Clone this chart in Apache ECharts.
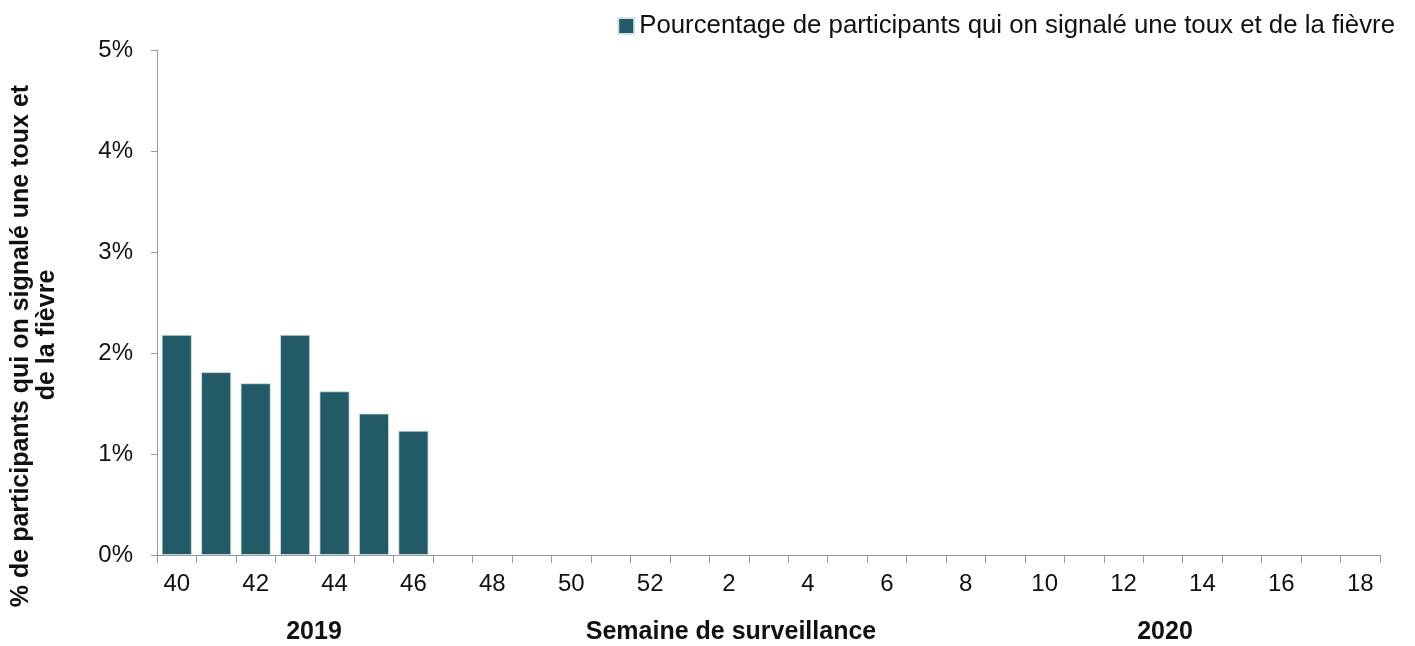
<!DOCTYPE html>
<html>
<head>
<meta charset="utf-8">
<script src="https://cdn.jsdelivr.net/npm/echarts@6/dist/echarts.min.js"></script>
<style>html,body{margin:0;padding:0;background:#fff}#c{width:1415px;height:646px}</style>
</head>
<body>
<div id="c"></div>
<script>
var weeks = ['40','41','42','43','44','45','46','47','48','49','50','51','52','1','2','3','4','5','6','7','8','9','10','11','12','13','14','15','16','17','18'];
var pctCoughFever = [2.18, 1.81, 1.70, 2.18, 1.62, 1.40, 1.23, null, null, null, null, null, null, null, null, null, null, null, null, null, null, null, null, null, null, null, null, null, null, null, null];
var yTicks = [0, 1, 2, 3, 4, 5];
var seriesName = 'Pourcentage de participants qui on signalé une toux et de la fièvre';
var yTitle = ['% de participants qui on signalé une toux et', 'de la fièvre'];
var xTitle = 'Semaine de surveillance';
var yearLabels = ['2019', '2020'];

var chart = echarts.init(document.getElementById('c'), null, {renderer: 'canvas'});
var FONT = '"Liberation Sans", Arial, sans-serif';
chart.setOption({
  animation: false,
  backgroundColor: '#fff',
  textStyle: {fontFamily: FONT},
  grid: {left: 157, right: 35, top: 50, bottom: 91, containLabel: false},
  legend: {
    top: 8, right: 15,
    itemWidth: 16, itemHeight: 16, itemGap: 5,
    icon: 'rect',
    textStyle: {fontSize: 25.8, color: '#111', fontFamily: FONT, padding: [0,0,0,0]},
    data: [seriesName]
  },
  xAxis: {
    type: 'category',
    data: weeks,
    boundaryGap: true,
    axisLine: {lineStyle: {color: '#999', width: 1}},
    axisTick: {show: true, interval: 0, length: 8, lineStyle: {color: '#999'}},
    axisLabel: {interval: 1, fontSize: 24, color: '#111', margin: 17, fontFamily: FONT}
  },
  yAxis: {
    type: 'value',
    min: yTicks[0], max: yTicks[yTicks.length-1], interval: 1,
    splitLine: {show: false},
    axisLine: {show: true, lineStyle: {color: '#999', width: 1}},
    axisTick: {show: true, length: 6, lineStyle: {color: '#999'}},
    axisLabel: {fontSize: 24, color: '#111', margin: 24, fontFamily: FONT, formatter: function(v){return v + '%';}}
  },
  series: [{
    name: seriesName,
    type: 'bar',
    data: pctCoughFever,
    barCategoryGap: '24%',
    itemStyle: {color: '#235A68', borderColor: '#d6e2e5', borderWidth: 0.8}
  }],
  graphic: [
    {type: 'text', x: 21, y: 346, rotation: Math.PI/2,
     style: {text: yTitle[0], font: 'bold 25px ' + FONT, fill: '#111', align: 'center', verticalAlign: 'middle'}},
    {type: 'text', x: 47, y: 335, rotation: Math.PI/2,
     style: {text: yTitle[1], font: 'bold 25px ' + FONT, fill: '#111', align: 'center', verticalAlign: 'middle'}},
    {type: 'text', x: 731, y: 632,
     style: {text: xTitle, font: 'bold 25px ' + FONT, fill: '#111', align: 'center', verticalAlign: 'middle'}},
    {type: 'text', x: 314, y: 632,
     style: {text: yearLabels[0], font: 'bold 25px ' + FONT, fill: '#111', align: 'center', verticalAlign: 'middle'}},
    {type: 'text', x: 1165, y: 632,
     style: {text: yearLabels[1], font: 'bold 25px ' + FONT, fill: '#111', align: 'center', verticalAlign: 'middle'}}
  ]
});
</script>
</body>
</html>
